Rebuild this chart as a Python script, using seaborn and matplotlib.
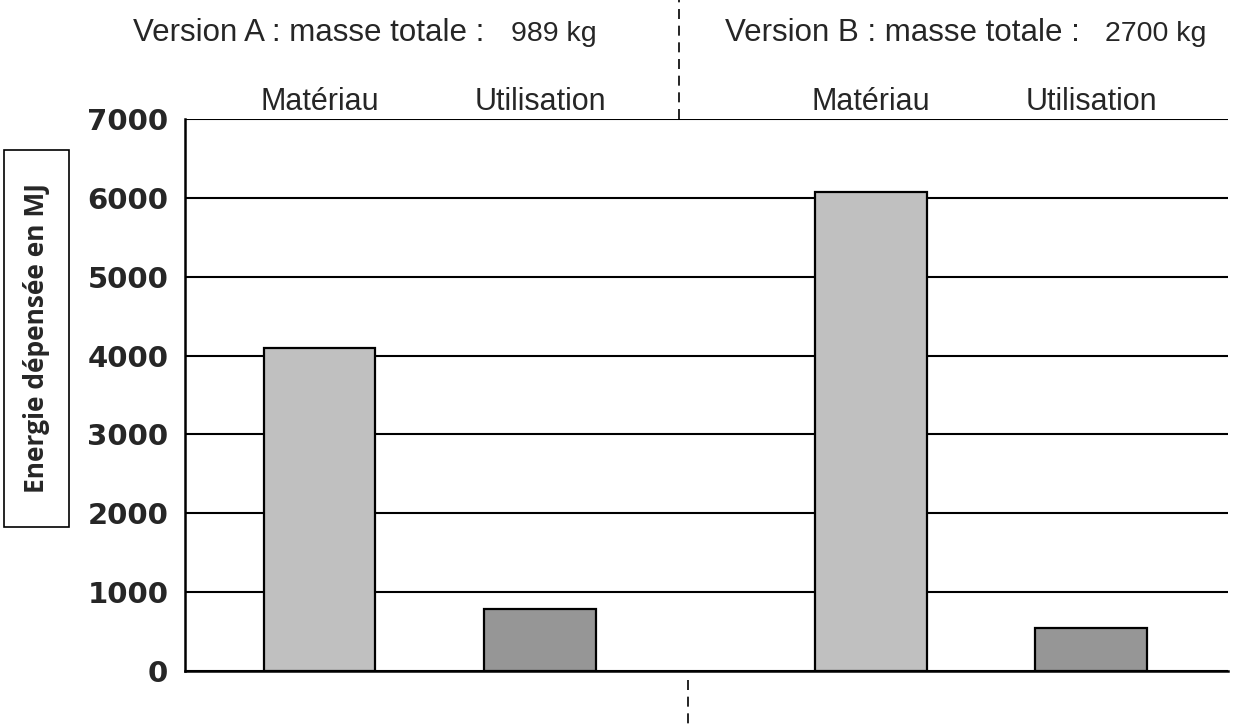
import numpy as np
import pandas as pd
import matplotlib
matplotlib.use("Agg")
import matplotlib.pyplot as plt
import seaborn as sns
from matplotlib.patches import Rectangle

# Données
versions = ["A", "A", "B", "B"]
postes = ["Matériau", "Utilisation", "Matériau", "Utilisation"]
energie = [4100, 790, 6080, 550]
masses = ["989 kg", "2700 kg"]
yticks = [0, 1000, 2000, 3000, 4000, 5000, 6000, 7000]

# Mise en page (positions des colonnes)
positions = [0.0, 1.0, 2.5, 3.5]
couleurs = {"Matériau": "#C0C0C0", "Utilisation": "#969696"}

sns.set_style("white")
plt.rcParams['font.family'] = ['Liberation Sans', 'DejaVu Sans']

df = pd.DataFrame({"pos": positions, "energie": energie,
                   "poste": postes, "version": versions})

fig = plt.figure(figsize=(12.33, 7.24), dpi=100)
ax = fig.add_axes([0.150, 0.0732, 0.846, 0.7624])

sns.barplot(data=df, x="pos", y="energie", hue="poste", palette=couleurs,
            native_scale=True, dodge=False, width=0.507, edgecolor="black",
            linewidth=1.6, legend=False, ax=ax, zorder=3)

ax.set_xlim(-0.61, 4.12)
ax.set_ylim(0, 7000)
ax.set_yticks(yticks)
ax.set_yticklabels([str(v) for v in yticks], fontsize=21, fontweight="bold",
                   family="DejaVu Sans")
ax.set_xticks([-0.61, 4.12])
ax.set_xticklabels(["", ""])
ax.tick_params(axis="y", direction="out", length=8, width=1.5, pad=4, color="black")
ax.tick_params(axis="x", direction="out", length=10, width=1.5, color="black")
ax.set_xlabel("")
ax.set_ylabel("")

# grille horizontale noire derrière les barres
ax.set_axisbelow(True)
ax.yaxis.grid(True, color="black", linewidth=1.5)
ax.xaxis.grid(False)
for s in ["top", "right"]:
    ax.spines[s].set_visible(False)
ax.spines["left"].set_color("black")
ax.spines["left"].set_linewidth(1.8)
ax.spines["bottom"].set_color("black")
ax.spines["bottom"].set_linewidth(1.8)

# séparateur pointillé entre les versions
ax.plot([0.474, 0.474], [1.0, 1.216], transform=ax.transAxes, clip_on=False,
        color="black", linestyle=(0, (6, 4)), linewidth=1.2)
ax.plot([0.482, 0.482], [-0.016, -0.096], transform=ax.transAxes, clip_on=False,
        color="black", linestyle=(0, (6, 4)), linewidth=1.2)

# sous-titres au-dessus des colonnes
for p, nom in zip(positions, postes):
    ax.text(p, 1.016, nom, transform=ax.get_xaxis_transform(), ha="center",
            va="baseline", fontsize=22)

# titres des versions
fig.text(0.250, 0.943, "Version A : masse totale :", ha="center", va="baseline", fontsize=22.5)
fig.text(0.449, 0.943, masses[0], ha="center", va="baseline", fontsize=20.5)
fig.text(0.7315, 0.943, "Version B : masse totale :", ha="center", va="baseline", fontsize=22.5)
fig.text(0.937, 0.943, masses[1], ha="center", va="baseline", fontsize=20.5)

# titre de l'axe y encadré
fig.text(0.030, 0.533, "Energie dépensée en MJ", rotation=90, ha="center",
         va="center", fontsize=19, fontweight="bold", family="Open Sans")
fig.patches.append(Rectangle((0.003, 0.272), 0.053, 0.521, transform=fig.transFigure,
                             fill=False, edgecolor="black", linewidth=1.2))

fig.savefig("out.png", dpi=100)
